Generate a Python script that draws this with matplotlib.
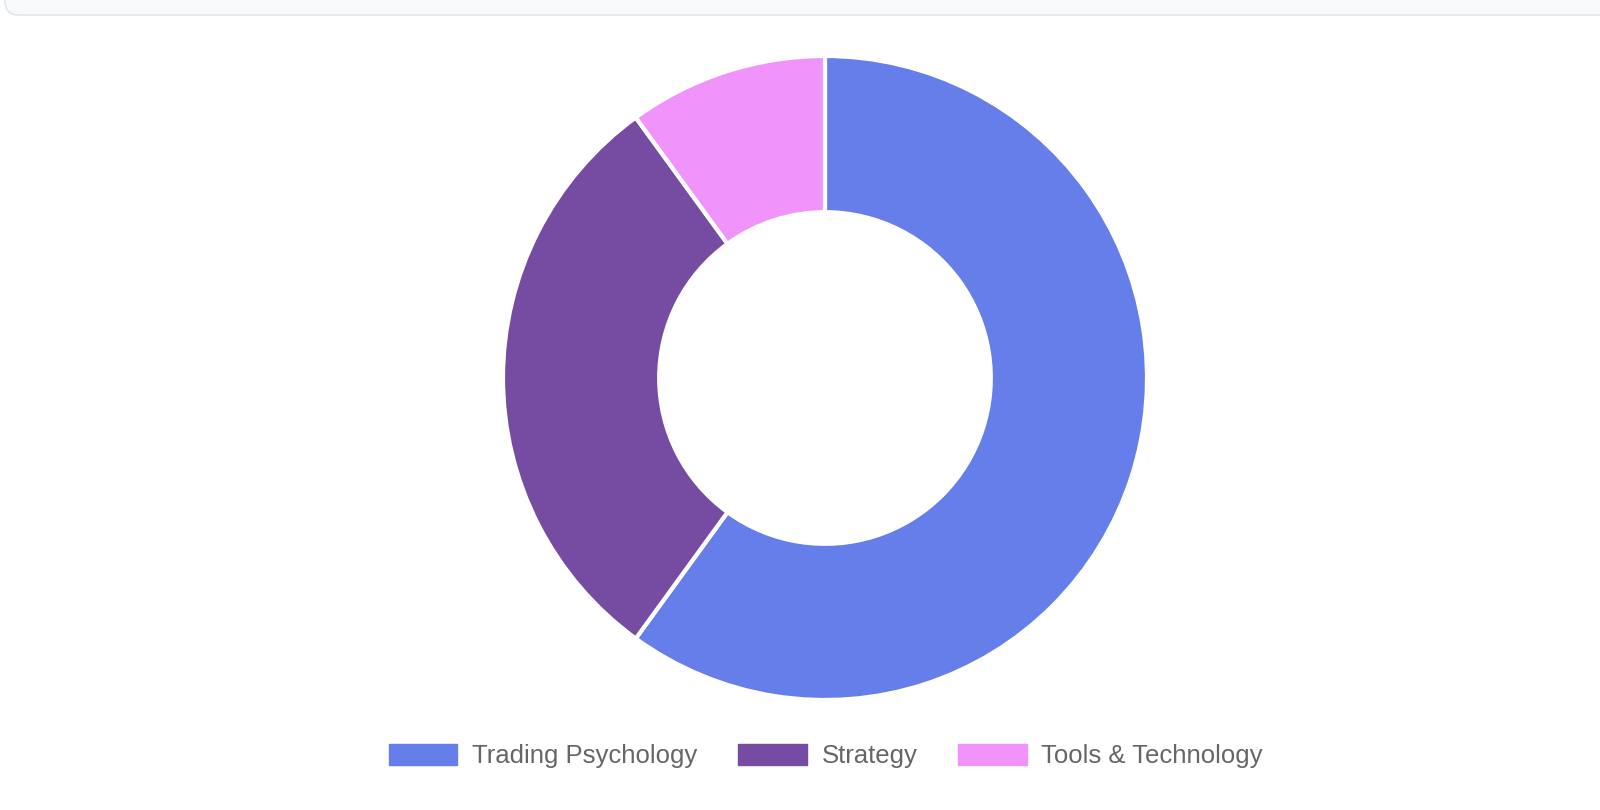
import matplotlib.pyplot as plt
from matplotlib.patches import Patch, FancyBboxPatch

labels = ["Trading Psychology", "Strategy", "Tools & Technology"]
values = [60, 30, 10]
colors = ["#667eea", "#764ba2", "#f093fb"]

W, H = 1600, 810
plt.rcParams['font.family'] = ['Liberation Sans', 'DejaVu Sans']

fig = plt.figure(figsize=(W / 100, H / 100), dpi=100)
ax = fig.add_axes([0, 0, 1, 1])

# top card strip (cut off by the image edge)
top = FancyBboxPatch((5, H - 15), 1700, 60,
                     boxstyle="round,pad=0,rounding_size=14",
                     facecolor="#f8f9fb", edgecolor="#e4e6ea", linewidth=1.2)
ax.add_patch(top)

# donut, pixel units: centre (825, 378) from top, radius 322
radius = 322
ax.pie(values, colors=colors, startangle=90, counterclock=False,
       center=(825, H - 378), radius=radius, frame=True,
       wedgeprops=dict(width=radius * 0.485, edgecolor="white", linewidth=3))
ax.set_xlim(0, W)
ax.set_ylim(0, H)
ax.set_aspect('equal')
ax.axis('off')

handles = [Patch(facecolor=c, edgecolor=c) for c in colors]
fig.legend(handles, labels, loc='center', ncol=3,
           bbox_to_anchor=(826 / W, 1 - 756 / H), frameon=False,
           fontsize=18.5, labelcolor="#666666",
           handlelength=2.65, handleheight=0.86,
           handletextpad=0.58, columnspacing=1.6)

fig.savefig("out.png", dpi=100)
